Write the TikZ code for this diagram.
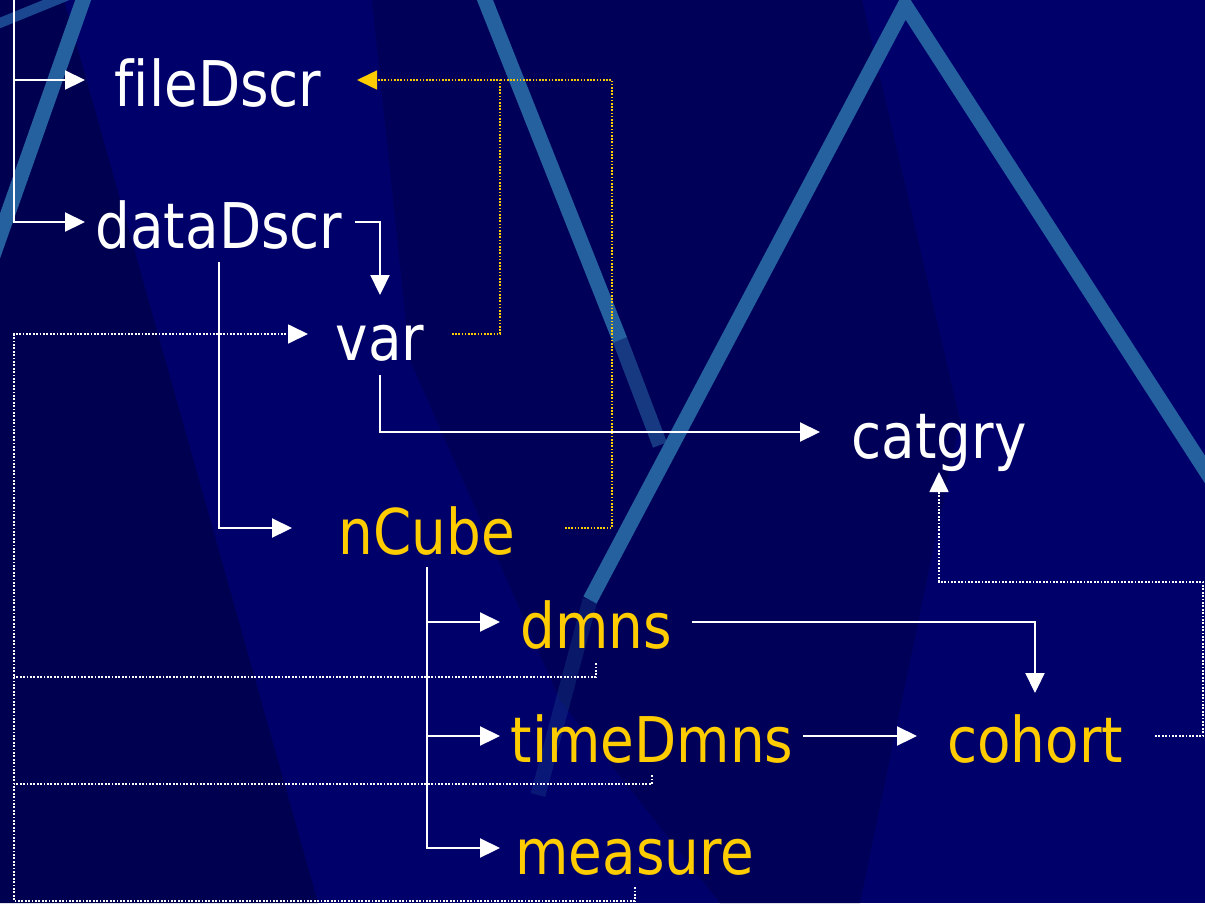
\documentclass[tikz,border=0pt]{standalone}
\usepackage{fontspec}
\setmainfont{DejaVu Sans}[FakeStretch=0.87,Ligatures=NoCommon]
\usetikzlibrary{arrows.meta,calc}
\definecolor{navy}{HTML}{00006A}
\definecolor{navydark}{HTML}{000050}
\definecolor{navymid}{HTML}{000058}
\definecolor{stripe}{HTML}{25609F}
\definecolor{stripedim}{HTML}{1B4690}
\definecolor{gold}{HTML}{FFCC00}
\begin{document}
\begin{tikzpicture}[x=1pt,y=-1pt,
  lbl/.style={anchor=base, inner sep=0pt, text height=52pt, text depth=0pt, font=\fontsize{63}{70}\selectfont},
  wlbl/.style={lbl,text=white},
  glbl/.style={lbl,text=gold},
  arrowtip/.style={-{Triangle[length=20pt,width=19pt]}},
  conn/.style={draw=white,line width=2.2pt,arrowtip},
  wdot/.style={draw=white,line width=1.8pt,dash pattern=on 1.8pt off 1.6pt},
  gdot/.style={draw=gold,line width=1.6pt,dash pattern=on 1.6pt off 1.6pt},
  stripeband/.style={draw=stripe,line width=15pt}
]
\useasboundingbox (0,0) rectangle (1205,903);
% background
\begin{scope}
  \clip (0,0) rectangle (1205,903);
  \fill[navy] (0,0) rectangle (1205,903);
  \fill[navydark] (0,0) -- (64,0) -- (318,903) -- (0,903) -- cycle;
  \fill[navymid] (372,0) -- (862,0) -- (960,420) -- (860,903) -- (720,903) -- (560,700) -- (410,360) -- cycle;
  \draw[draw=stripedim,line width=10pt] (-10,27) -- (130,-30);
  \draw[stripeband] (92,-25) -- (-12,270);
  \draw[stripeband] (477,-20) -- (620,340);
  \draw[stripeband,opacity=0.6] (620,340) -- (660,445);
  \draw[stripeband,line join=miter] (590,600) -- (905,5) -- (1215,485);
  \draw[stripeband,opacity=0.25] (590,600) -- (538,795);
\end{scope}
% labels
\node[wlbl] (fileDscr) at (218,106) {fileDscr};
\node[wlbl] (dataDscr) at (219,248) {dataDscr};
\node[wlbl] (var) at (380,360) {var};
\node[wlbl] (catgry) at (939,458) {catgry};
\node[glbl] (nCube) at (427,554) {nCube};
\node[glbl] (dmns) at (596,648) {dmns};
\node[glbl] (timeDmns) at (652,762) {timeDmns};
\node[glbl] (cohort) at (1035,762) {cohort};
\node[glbl] (measure) at (635,874) {measure};
% solid connectors
\coordinate (rootTop) at (14,0);
\draw[conn] (rootTop) |- (fileDscr.west -| 85,0);
\draw[conn] (rootTop) |- (dataDscr.west -| 85,0);
\draw[conn] (dataDscr.east -| 355,0) -| (var.north |- 0,295);
\draw[conn] ([yshift=-14pt]dataDscr.south) |- (nCube.west -| 292,0);
\draw[conn] ([yshift=-15pt]var.south) |- (catgry.west -| 820,0);
\foreach \t in {dmns,timeDmns,measure}
  \draw[conn] ([yshift=-13pt]nCube.south) |- (\t.west -| 500,0);
\draw[conn] (dmns.east -| 692,0) -| (cohort.north |- 0,693);
\draw[conn] (timeDmns.east -| 803,0) -- (cohort.west -| 917,0);
% gold dotted connectors
\draw[gdot,arrowtip] (var.east -| 452,0) -| (fileDscr.east -| 500,0) -- (fileDscr.east -| 357,0);
\draw[gdot] (nCube.east -| 565,0) -| (fileDscr.east -| 612,0) -- (fileDscr.east -| 500,0);
% white dotted connectors
\draw[wdot,arrowtip] ([yshift=-13pt]measure.south) |- (14,901) |- (var.west -| 308,0);
\draw[wdot] ([yshift=-15pt]dmns.south) |- (14,677);
\draw[wdot] ([yshift=-13pt]timeDmns.south) |- (14,784);
\draw[wdot,arrowtip] (cohort.east -| 1155,0) -| (1203,582) -| (catgry.south |- 0,472);
\end{tikzpicture}
\end{document}
